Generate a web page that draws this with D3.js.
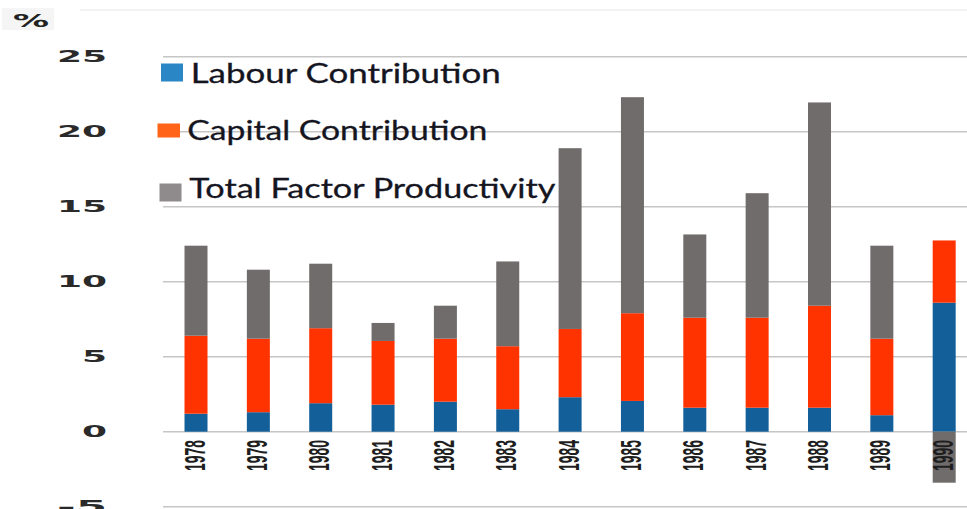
<!DOCTYPE html>
<html><head><meta charset="utf-8">
<script src="https://cdn.jsdelivr.net/npm/d3@7"></script>
<style>html,body{margin:0;padding:0;background:#fff;overflow:hidden}</style>
</head><body>
<svg id="c" width="967" height="509"></svg>
<script>
const years = ["1978","1979","1980","1981","1982","1983","1984","1985","1986","1987","1988","1989","1990"];
const labour  = [1.2, 1.3, 1.9, 1.8, 2.0, 1.5, 2.3, 2.05, 1.6, 1.6, 1.6, 1.1, 8.6];
const capital = [5.2, 4.9, 5.0, 4.25, 4.2, 4.2, 4.55, 5.85, 6.0, 6.0, 6.8, 5.1, 4.15];
const tfp     = [6.0, 4.6, 4.3, 1.2, 2.2, 5.65, 12.05, 14.4, 5.55, 8.3, 13.55, 6.2, -3.4];
const yTicks = [-5, 0, 5, 10, 15, 20, 25];
const seriesNames = ["Labour Contribution", "Capital Contribution", "Total Factor Productivity"];
const keys = ["labour", "capital", "tfp"];
const barColors = ["#135f99", "#ff3300", "#716c6c"];
const legendColors = ["#2b86c5", "#ff6418", "#8f8b8c"];

const rows = years.map((y, i) => ({year: y, labour: labour[i], capital: capital[i], tfp: tfp[i]}));

const svg = d3.select("#c");
const y = d3.scaleLinear().domain([0, 25]).range([431.7, 56.7]);
const x = d3.scaleBand().domain(years).range([153.3, 986.9]).paddingInner(0.63).paddingOuter(0.5);
const barW = 23;

// faint top line and % box
svg.append("line").attr("x1", 80).attr("x2", 967).attr("y1", 10).attr("y2", 10)
  .attr("stroke", "#efefef").attr("stroke-width", 1.5);
svg.append("rect").attr("x", 2).attr("y", 8).attr("width", 52).attr("height", 22).attr("fill", "#f5f5f5");
svg.append("text").attr("x", 13).attr("y", 27).text("%")
  .attr("font-family", "DejaVu Sans").attr("font-weight", "bold").attr("font-size", 17)
  .attr("fill", "#222").attr("textLength", 36).attr("lengthAdjust", "spacingAndGlyphs");

// gridlines
svg.append("g").selectAll("line").data(yTicks).join("line")
  .attr("x1", 163).attr("x2", 967)
  .attr("y1", d => y(d)).attr("y2", d => y(d))
  .attr("stroke", "#c6c6c6").attr("stroke-width", 1.6);

// y tick labels
svg.append("g").selectAll("text").data(yTicks).join("text")
  .attr("x", 107).attr("y", d => y(d))
  .attr("text-anchor", "end").attr("dominant-baseline", "central")
  .attr("font-family", "DejaVu Sans").attr("font-weight", "bold").attr("font-size", 16)
  .attr("fill", "#2a2a2a")
  .attr("textLength", d => String(d).length * 25).attr("lengthAdjust", "spacingAndGlyphs")
  .text(d => d);

// stacked bars
const stack = d3.stack().keys(keys).offset(d3.stackOffsetDiverging)(rows);
svg.append("g").selectAll("g").data(stack).join("g")
  .attr("fill", (d, i) => barColors[i])
  .selectAll("rect").data(d => d).join("rect")
  .attr("x", d => x(d.data.year) + x.bandwidth() / 2 - barW / 2)
  .attr("width", barW)
  .attr("y", d => y(Math.max(d[0], d[1])))
  .attr("height", d => Math.abs(y(d[0]) - y(d[1])));

// x labels
svg.append("g").selectAll("text").data(years).join("text")
  .attr("transform", d => `translate(${x(d) + x.bandwidth() / 2 - 2},440) rotate(-90)`)
  .attr("text-anchor", "end").attr("dominant-baseline", "central")
  .attr("font-family", "Liberation Sans").attr("font-weight", "bold").attr("font-size", 30)
  .attr("fill", "#1e1e1e")
  .attr("textLength", 31).attr("lengthAdjust", "spacingAndGlyphs")
  .text(d => d);

// legend
const legY = [83.3, 139.5, 198.3];
const legSq = [{x: 161, y: 63.5, w: 22, h: 18}, {x: 157.5, y: 123.5, w: 22.5, h: 14}, {x: 159.5, y: 183.5, w: 22, h: 18}];
const legTx = [190.7, 187.3, 189.3];
const legLen = [310, 300, 366];
const leg = svg.append("g");
seriesNames.forEach((name, i) => {
  leg.append("rect").attr("x", legSq[i].x).attr("y", legSq[i].y)
    .attr("width", legSq[i].w).attr("height", legSq[i].h).attr("fill", legendColors[i]);
  leg.append("text").attr("x", legTx[i]).attr("y", legY[i])
    .attr("font-family", "Lato").attr("font-size", 26).attr("fill", "#15151f")
    .attr("stroke", "#15151f").attr("stroke-width", 0.3)
    .attr("textLength", legLen[i]).attr("lengthAdjust", "spacingAndGlyphs")
    .text(name);
});
</script>
</body></html>
